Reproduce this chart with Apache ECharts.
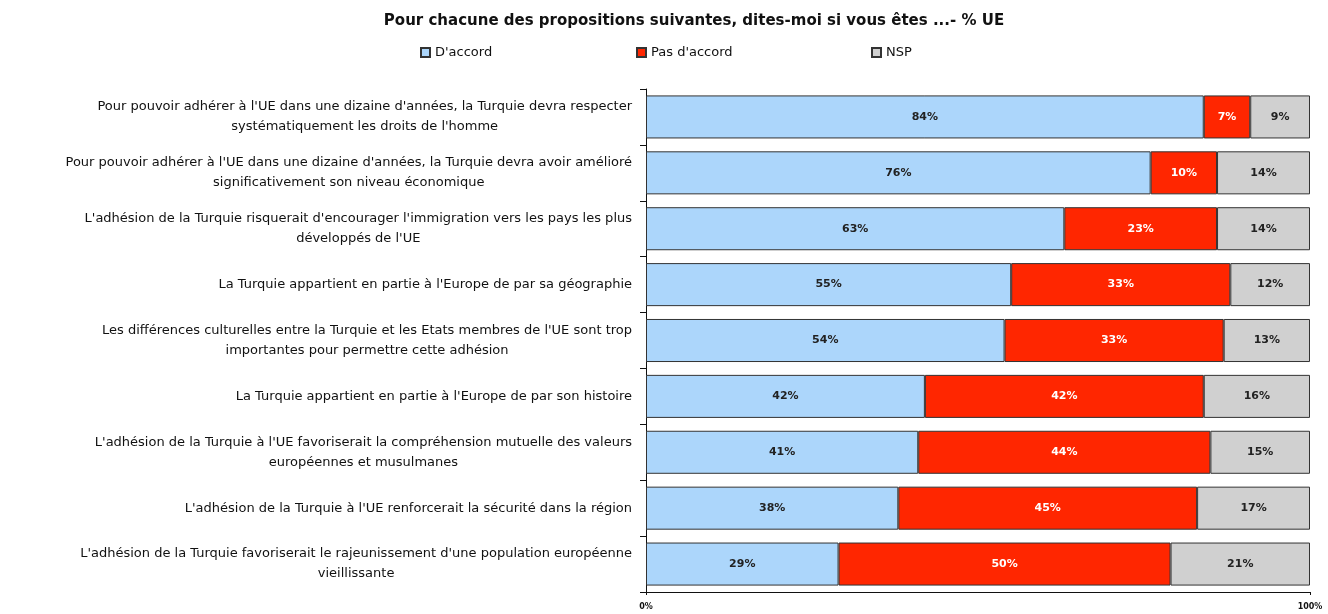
<!DOCTYPE html>
<html>
  <head>
    <title>Turquie - % UE</title>
    <style type="text/css">
      html,
      body {
        width: 100%;
        height: 100%;
        margin: 0px;
        background: #fff;
      }

      #chart {
        width: 1328px;
        height: 614px;
      }
    </style>
    <script type="text/javascript" src="https://cdn.jsdelivr.net/npm/echarts@6/dist/echarts.min.js"></script>
  </head>

  <body>
    <div id="chart"></div>
    <script>
      const titleText = "Pour chacune des propositions suivantes, dites-moi si vous êtes ...- % UE";
      const seriesNames = ["D'accord", "Pas d'accord", "NSP"];
      const categories = [
        "Pour pouvoir adhérer à l'UE dans une dizaine d'années, la Turquie devra respecter\nsystématiquement les droits de l'homme",
        "Pour pouvoir adhérer à l'UE dans une dizaine d'années, la Turquie devra avoir amélioré\nsignificativement son niveau économique",
        "L'adhésion de la Turquie risquerait d'encourager l'immigration vers les pays les plus\ndéveloppés de l'UE",
        "La Turquie appartient en partie à l'Europe de par sa géographie",
        "Les différences culturelles entre la Turquie et les Etats membres de l'UE sont trop\nimportantes pour permettre cette adhésion",
        "La Turquie appartient en partie à l'Europe de par son histoire",
        "L'adhésion de la Turquie à l'UE favoriserait la compréhension mutuelle des valeurs\neuropéennes et musulmanes",
        "L'adhésion de la Turquie à l'UE renforcerait la sécurité dans la région",
        "L'adhésion de la Turquie favoriserait le rajeunissement d'une population européenne\nvieillissante"
      ];
      const accord = [84, 76, 63, 55, 54, 42, 41, 38, 29];
      const pasAccord = [7, 10, 23, 33, 33, 42, 44, 45, 50];
      const nsp = [9, 14, 14, 12, 13, 16, 15, 17, 21];

      const colors = ["#acd6fb", "#ff2600", "#d0d0d0"];
      const labelColors = ["#222", "#fff", "#222"];
      const font = "'DejaVu Sans', sans-serif";

      const chart = echarts.init(document.getElementById("chart"), null, { renderer: "canvas" });

      function makeSeries(name, data, i) {
        return {
          name: name,
          type: "bar",
          stack: "total",
          data: data,
          barCategoryGap: "23%",
          itemStyle: { color: colors[i], borderColor: "#333", borderWidth: 1 },
          label: {
            show: true,
            position: "inside",
            formatter: "{c}%",
            color: labelColors[i],
            fontFamily: font,
            fontWeight: "bold",
            fontSize: 11
          }
        };
      }

      // une légende par entrée pour placer chaque item comme sur l'original
      const legendLeft = [415, 631, 866];
      const legends = seriesNames.map((n, i) => ({
        data: [n],
        left: legendLeft[i],
        top: 41,
        itemWidth: 9,
        itemHeight: 9,
        itemGap: 4,
        icon: "rect",
        textStyle: { fontFamily: font, fontSize: 13, color: "#111" }
      }));

      const option = {
        animation: false,
        title: {
          text: titleText,
          left: 689,
          textAlign: "center",
          top: 9,
          textStyle: { fontFamily: font, fontSize: 15, fontWeight: "bold", color: "#111" }
        },
        legend: legends,
        grid: { left: 646, right: 18, top: 89, bottom: 22, containLabel: false },
        xAxis: {
          type: "value",
          min: 0,
          max: 100,
          interval: 100,
          splitLine: { show: false },
          axisLine: { show: true, lineStyle: { color: "#111" } },
          axisTick: { show: true, length: 3, lineStyle: { color: "#111" } },
          axisLabel: {
            formatter: "{value}%",
            fontFamily: font,
            fontSize: 8,
            fontWeight: "bold",
            color: "#111",
            margin: 11
          }
        },
        yAxis: {
          type: "category",
          inverse: true,
          data: categories,
          axisLine: { show: true, lineStyle: { color: "#111" } },
          axisTick: { show: true, length: 6, lineStyle: { color: "#111" } },
          axisLabel: {
            margin: 14,
            formatter: (v) => v.split("\n").map((l) => "{c|" + l + "}").join("\n"),
            rich: {
              c: {
                align: "center",
                fontFamily: font,
                fontSize: 13,
                lineHeight: 20,
                color: "#111"
              }
            }
          }
        },
        series: [
          makeSeries(seriesNames[0], accord, 0),
          makeSeries(seriesNames[1], pasAccord, 1),
          makeSeries(seriesNames[2], nsp, 2)
        ]
      };

      chart.setOption(option);
    </script>
  </body>
</html>
